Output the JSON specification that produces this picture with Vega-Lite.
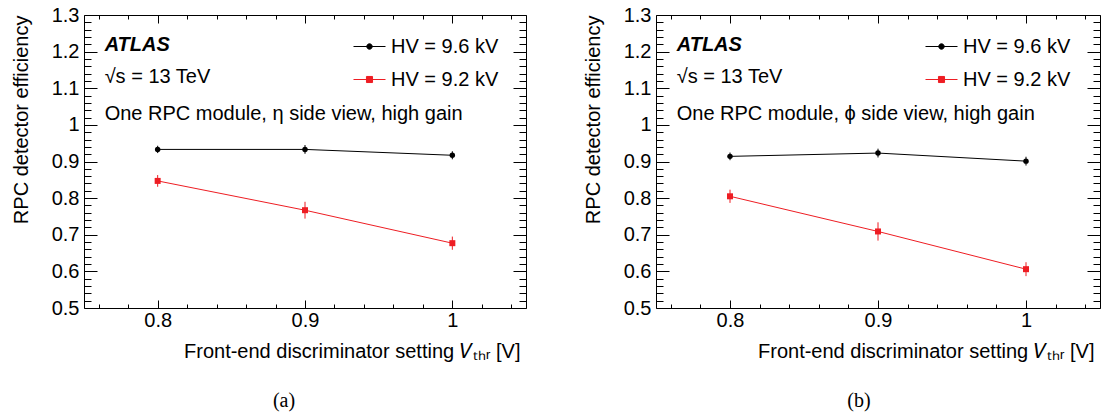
{
  "$schema": "https://vega.github.io/schema/vega-lite/v6.json",
  "padding": {"left": 10, "top": 4, "right": 6, "bottom": 2},
  "background": "white",
  "spacing": 130,
  "bounds": "flush",
  "datasets": {
    "a": [
      {"x": 0.8, "eff": 0.933, "lo": 0.923, "hi": 0.943, "series": "HV = 9.6 kV"},
      {"x": 0.9, "eff": 0.933, "lo": 0.921, "hi": 0.945, "series": "HV = 9.6 kV"},
      {"x": 1.0, "eff": 0.917, "lo": 0.906, "hi": 0.928, "series": "HV = 9.6 kV"},
      {"x": 0.8, "eff": 0.847, "lo": 0.831, "hi": 0.863, "series": "HV = 9.2 kV"},
      {"x": 0.9, "eff": 0.767, "lo": 0.744, "hi": 0.790, "series": "HV = 9.2 kV"},
      {"x": 1.0, "eff": 0.677, "lo": 0.659, "hi": 0.695, "series": "HV = 9.2 kV"}
    ],
    "b": [
      {"x": 0.8, "eff": 0.914, "lo": 0.9035, "hi": 0.9245, "series": "HV = 9.6 kV"},
      {"x": 0.9, "eff": 0.923, "lo": 0.911, "hi": 0.935, "series": "HV = 9.6 kV"},
      {"x": 1.0, "eff": 0.901, "lo": 0.889, "hi": 0.913, "series": "HV = 9.6 kV"},
      {"x": 0.8, "eff": 0.805, "lo": 0.787, "hi": 0.823, "series": "HV = 9.2 kV"},
      {"x": 0.9, "eff": 0.709, "lo": 0.684, "hi": 0.734, "series": "HV = 9.2 kV"},
      {"x": 1.0, "eff": 0.606, "lo": 0.587, "hi": 0.625, "series": "HV = 9.2 kV"}
    ],
    "one": [{}]
  },
  "hconcat": [
    {
      "width": 442,
      "height": 293,
      "title": {"text": "(a)", "orient": "bottom", "anchor": "middle", "font": "Liberation Serif", "fontSize": 20, "fontWeight": "normal", "color": "black", "offset": 30, "dx": -21},
      "layer": [
        {
          "data": {"name": "a"},
          "mark": {"type": "line", "strokeWidth": 1},
          "encoding": {
            "x": {"field": "x", "type": "quantitative", "scale": {"domain": [0.75, 1.05], "nice": false, "zero": false},
              "axis": {"orient": "bottom", "values": [0.76,0.78,0.8,0.82,0.84,0.86,0.88,0.9,0.92,0.94,0.96,0.98,1,1.02,1.04],
                "labelExpr": "abs(datum.value*10-round(datum.value*10))<0.001 ? format(datum.value,'.1~f') : ''",
                "tickSize": {"condition": {"test": "abs(datum.value*10-round(datum.value*10))<0.001", "value": -8}, "value": -4},
                "labelPadding": 10, "labelOverlap": false, "labelFlush": false,
                "title": "Front-end discriminator setting 𝑉ₜₕᵣ [V]", "titleAnchor": "end", "titleAlign": "right", "titleX": 436, "titleY": 43, "titleBaseline": "middle"}},
            "y": {"field": "eff", "type": "quantitative", "scale": {"domain": [0.5, 1.3], "nice": false, "zero": false},
              "axis": {"orient": "left", "values": [0.5,0.52,0.54,0.56,0.58,0.6,0.62,0.64,0.66,0.68,0.7,0.72,0.74,0.76,0.78,0.8,0.82,0.84,0.86,0.88,0.9,0.92,0.94,0.96,0.98,1,1.02,1.04,1.06,1.08,1.1,1.12,1.14,1.16,1.18,1.2,1.22,1.24,1.26,1.28,1.3],
                "labelExpr": "abs(datum.value*10-round(datum.value*10))<0.001 ? format(datum.value,'.1~f') : ''",
                "tickSize": {"condition": {"test": "abs(datum.value*10-round(datum.value*10))<0.001", "value": -13}, "value": -7},
                "labelPadding": 18, "labelOverlap": false, "labelFlush": false,
                "title": "RPC detector efficiency", "titleAnchor": "end", "titleAlign": "right", "titleAngle": 270, "titleX": -63, "titleY": 0, "titleBaseline": "middle"}},
            "color": {"field": "series", "type": "nominal", "scale": {"domain": ["HV = 9.6 kV", "HV = 9.2 kV"], "range": ["#000000", "#ee1d23"]},
              "legend": {"orient": "none", "legendX": 269, "legendY": 15, "title": null, "padding": 0, "rowPadding": 6, "labelOffset": 5,
                "labelFont": "Liberation Sans", "labelFontSize": 20, "labelColor": "black",
                "encode": {"symbols": {"update": {
                  "shape": [{"test": "datum.value === 'HV = 9.2 kV'", "value": "M-1,0H1M-0.19,-0.19H0.19V0.19H-0.19Z"}, {"value": "M-1,0H1M0.17,0A0.17,0.17,0,1,1,-0.17,0A0.17,0.17,0,1,1,0.17,0Z"}],
                  "fill": [{"test": "datum.value === 'HV = 9.2 kV'", "value": "#ee1d23"}, {"value": "#000000"}],
                  "stroke": [{"test": "datum.value === 'HV = 9.2 kV'", "value": "#ee1d23"}, {"value": "#000000"}],
                  "strokeWidth": {"value": 1},
                  "size": {"value": 1024},
                  "opacity": {"value": 1}
                }}}}}
          }
        },
        {
          "data": {"name": "a"},
          "mark": {"type": "rule", "strokeWidth": 1},
          "encoding": {
            "x": {"field": "x", "type": "quantitative",
              "axis": {"orient": "top", "values": [0.76,0.78,0.8,0.82,0.84,0.86,0.88,0.9,0.92,0.94,0.96,0.98,1,1.02,1.04], "labels": false, "title": null,
                "tickSize": {"condition": {"test": "abs(datum.value*10-round(datum.value*10))<0.001", "value": -8}, "value": -4}}},
            "y": {"field": "lo", "type": "quantitative",
              "axis": {"orient": "right", "values": [0.5,0.52,0.54,0.56,0.58,0.6,0.62,0.64,0.66,0.68,0.7,0.72,0.74,0.76,0.78,0.8,0.82,0.84,0.86,0.88,0.9,0.92,0.94,0.96,0.98,1,1.02,1.04,1.06,1.08,1.1,1.12,1.14,1.16,1.18,1.2,1.22,1.24,1.26,1.28,1.3], "labels": false, "title": null,
                "tickSize": {"condition": {"test": "abs(datum.value*10-round(datum.value*10))<0.001", "value": -13}, "value": -7}}},
            "y2": {"field": "hi"},
            "color": {"field": "series", "type": "nominal", "legend": null}
          }
        },
        {
          "data": {"name": "a"},
          "transform": [{"filter": "datum.series === 'HV = 9.6 kV'"}],
          "mark": {"type": "point", "shape": "circle", "filled": true, "opacity": 1, "size": 30},
          "encoding": {
            "x": {"field": "x", "type": "quantitative", "axis": null},
            "y": {"field": "eff", "type": "quantitative", "axis": null},
            "color": {"field": "series", "type": "nominal", "legend": null}
          }
        },
        {
          "data": {"name": "a"},
          "transform": [{"filter": "datum.series === 'HV = 9.2 kV'"}],
          "mark": {"type": "point", "shape": "square", "filled": true, "opacity": 1, "size": 36},
          "encoding": {
            "x": {"field": "x", "type": "quantitative", "axis": null},
            "y": {"field": "eff", "type": "quantitative", "axis": null},
            "color": {"field": "series", "type": "nominal", "legend": null}
          }
        },
        {
          "data": {"name": "one"},
          "mark": {"type": "text", "text": "ATLAS", "font": "Liberation Sans", "fontSize": 20, "fontStyle": "italic", "fontWeight": "bold", "align": "left", "baseline": "middle", "color": "black"},
          "encoding": {"x": {"datum": 0.764, "type": "quantitative", "axis": null}, "y": {"datum": 1.218, "type": "quantitative", "axis": null}}
        },
        {
          "data": {"name": "one"},
          "mark": {"type": "text", "text": "√s = 13 TeV", "font": "Liberation Sans", "fontSize": 20, "align": "left", "baseline": "middle", "color": "black"},
          "encoding": {"x": {"datum": 0.764, "type": "quantitative", "axis": null}, "y": {"datum": 1.131, "type": "quantitative", "axis": null}}
        },
        {
          "data": {"name": "one"},
          "mark": {"type": "text", "text": "One RPC module, η side view, high gain", "font": "Liberation Sans", "fontSize": 20, "align": "left", "baseline": "middle", "color": "black"},
          "encoding": {"x": {"datum": 0.764, "type": "quantitative", "axis": null}, "y": {"datum": 1.03, "type": "quantitative", "axis": null}}
        }
      ],
      "resolve": {"axis": {"x": "independent", "y": "independent"}}
    },
    {
      "width": 444,
      "height": 293,
      "title": {"text": "(b)", "orient": "bottom", "anchor": "middle", "font": "Liberation Serif", "fontSize": 20, "fontWeight": "normal", "color": "black", "offset": 30, "dx": -19},
      "layer": [
        {
          "data": {"name": "b"},
          "mark": {"type": "line", "strokeWidth": 1},
          "encoding": {
            "x": {"field": "x", "type": "quantitative", "scale": {"domain": [0.75, 1.05], "nice": false, "zero": false},
              "axis": {"orient": "bottom", "values": [0.76,0.78,0.8,0.82,0.84,0.86,0.88,0.9,0.92,0.94,0.96,0.98,1,1.02,1.04],
                "labelExpr": "abs(datum.value*10-round(datum.value*10))<0.001 ? format(datum.value,'.1~f') : ''",
                "tickSize": {"condition": {"test": "abs(datum.value*10-round(datum.value*10))<0.001", "value": -8}, "value": -4},
                "labelPadding": 10, "labelOverlap": false, "labelFlush": false,
                "title": "Front-end discriminator setting 𝑉ₜₕᵣ [V]", "titleAnchor": "end", "titleAlign": "right", "titleX": 438, "titleY": 43, "titleBaseline": "middle"}},
            "y": {"field": "eff", "type": "quantitative", "scale": {"domain": [0.5, 1.3], "nice": false, "zero": false},
              "axis": {"orient": "left", "values": [0.5,0.52,0.54,0.56,0.58,0.6,0.62,0.64,0.66,0.68,0.7,0.72,0.74,0.76,0.78,0.8,0.82,0.84,0.86,0.88,0.9,0.92,0.94,0.96,0.98,1,1.02,1.04,1.06,1.08,1.1,1.12,1.14,1.16,1.18,1.2,1.22,1.24,1.26,1.28,1.3],
                "labelExpr": "abs(datum.value*10-round(datum.value*10))<0.001 ? format(datum.value,'.1~f') : ''",
                "tickSize": {"condition": {"test": "abs(datum.value*10-round(datum.value*10))<0.001", "value": -13}, "value": -7},
                "labelPadding": 18, "labelOverlap": false, "labelFlush": false,
                "title": "RPC detector efficiency", "titleAnchor": "end", "titleAlign": "right", "titleAngle": 270, "titleX": -63, "titleY": 0, "titleBaseline": "middle"}},
            "color": {"field": "series", "type": "nominal", "scale": {"domain": ["HV = 9.6 kV", "HV = 9.2 kV"], "range": ["#000000", "#ee1d23"]},
              "legend": {"orient": "none", "legendX": 269, "legendY": 15, "title": null, "padding": 0, "rowPadding": 6, "labelOffset": 5,
                "labelFont": "Liberation Sans", "labelFontSize": 20, "labelColor": "black",
                "encode": {"symbols": {"update": {
                  "shape": [{"test": "datum.value === 'HV = 9.2 kV'", "value": "M-1,0H1M-0.19,-0.19H0.19V0.19H-0.19Z"}, {"value": "M-1,0H1M0.17,0A0.17,0.17,0,1,1,-0.17,0A0.17,0.17,0,1,1,0.17,0Z"}],
                  "fill": [{"test": "datum.value === 'HV = 9.2 kV'", "value": "#ee1d23"}, {"value": "#000000"}],
                  "stroke": [{"test": "datum.value === 'HV = 9.2 kV'", "value": "#ee1d23"}, {"value": "#000000"}],
                  "strokeWidth": {"value": 1},
                  "size": {"value": 1024},
                  "opacity": {"value": 1}
                }}}}}
          }
        },
        {
          "data": {"name": "b"},
          "mark": {"type": "rule", "strokeWidth": 1},
          "encoding": {
            "x": {"field": "x", "type": "quantitative",
              "axis": {"orient": "top", "values": [0.76,0.78,0.8,0.82,0.84,0.86,0.88,0.9,0.92,0.94,0.96,0.98,1,1.02,1.04], "labels": false, "title": null,
                "tickSize": {"condition": {"test": "abs(datum.value*10-round(datum.value*10))<0.001", "value": -8}, "value": -4}}},
            "y": {"field": "lo", "type": "quantitative",
              "axis": {"orient": "right", "values": [0.5,0.52,0.54,0.56,0.58,0.6,0.62,0.64,0.66,0.68,0.7,0.72,0.74,0.76,0.78,0.8,0.82,0.84,0.86,0.88,0.9,0.92,0.94,0.96,0.98,1,1.02,1.04,1.06,1.08,1.1,1.12,1.14,1.16,1.18,1.2,1.22,1.24,1.26,1.28,1.3], "labels": false, "title": null,
                "tickSize": {"condition": {"test": "abs(datum.value*10-round(datum.value*10))<0.001", "value": -13}, "value": -7}}},
            "y2": {"field": "hi"},
            "color": {"field": "series", "type": "nominal", "legend": null}
          }
        },
        {
          "data": {"name": "b"},
          "transform": [{"filter": "datum.series === 'HV = 9.6 kV'"}],
          "mark": {"type": "point", "shape": "circle", "filled": true, "opacity": 1, "size": 30},
          "encoding": {
            "x": {"field": "x", "type": "quantitative", "axis": null},
            "y": {"field": "eff", "type": "quantitative", "axis": null},
            "color": {"field": "series", "type": "nominal", "legend": null}
          }
        },
        {
          "data": {"name": "b"},
          "transform": [{"filter": "datum.series === 'HV = 9.2 kV'"}],
          "mark": {"type": "point", "shape": "square", "filled": true, "opacity": 1, "size": 36},
          "encoding": {
            "x": {"field": "x", "type": "quantitative", "axis": null},
            "y": {"field": "eff", "type": "quantitative", "axis": null},
            "color": {"field": "series", "type": "nominal", "legend": null}
          }
        },
        {
          "data": {"name": "one"},
          "mark": {"type": "text", "text": "ATLAS", "font": "Liberation Sans", "fontSize": 20, "fontStyle": "italic", "fontWeight": "bold", "align": "left", "baseline": "middle", "color": "black"},
          "encoding": {"x": {"datum": 0.764, "type": "quantitative", "axis": null}, "y": {"datum": 1.218, "type": "quantitative", "axis": null}}
        },
        {
          "data": {"name": "one"},
          "mark": {"type": "text", "text": "√s = 13 TeV", "font": "Liberation Sans", "fontSize": 20, "align": "left", "baseline": "middle", "color": "black"},
          "encoding": {"x": {"datum": 0.764, "type": "quantitative", "axis": null}, "y": {"datum": 1.131, "type": "quantitative", "axis": null}}
        },
        {
          "data": {"name": "one"},
          "mark": {"type": "text", "text": "One RPC module, ϕ side view, high gain", "font": "Liberation Sans", "fontSize": 20, "align": "left", "baseline": "middle", "color": "black"},
          "encoding": {"x": {"datum": 0.764, "type": "quantitative", "axis": null}, "y": {"datum": 1.03, "type": "quantitative", "axis": null}}
        }
      ],
      "resolve": {"axis": {"x": "independent", "y": "independent"}}
    }
  ],
  "resolve": {"scale": {"color": "independent"}, "legend": {"color": "independent"}},
  "config": {
    "view": {"stroke": "black", "strokeWidth": 1},
    "axis": {"domain": false, "grid": false, "tickColor": "black", "tickWidth": 1, "labelFont": "Liberation Sans", "labelFontSize": 20, "labelColor": "black", "titleFont": "Liberation Sans", "titleFontSize": 20, "titleFontWeight": "normal", "titleColor": "black"}
  }
}
